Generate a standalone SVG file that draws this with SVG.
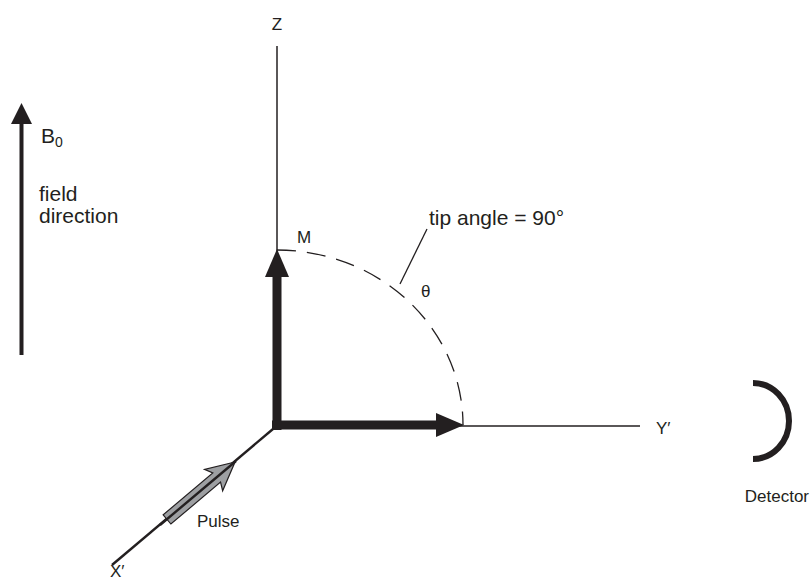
<svg xmlns="http://www.w3.org/2000/svg" width="811" height="582" viewBox="0 0 811 582">
<style>
text{font-family:"Liberation Sans",Arial,sans-serif;font-size:17px;fill:#231f20}
.thin{stroke:#231f20;stroke-width:1.5;fill:none}
.thick{stroke:#231f20;stroke-width:9;fill:none}
.head{fill:#231f20;stroke:none}
.big{font-size:21px}
</style>
<rect width="811" height="582" fill="#fff"/>
<g id="connectors">
<line class="thin" x1="277" y1="46" x2="277" y2="425"/>
<line class="thin" x1="440" y1="426" x2="640" y2="426"/>
<line class="thin" x1="273" y1="429" x2="112" y2="565" style="stroke-width:2.4"/>
<path d="M277 250 A186 175 0 0 1 463 425" fill="none" stroke="#231f20" stroke-width="1.3" stroke-dasharray="19 11"/>
<line class="thin" x1="400" y1="284" x2="427" y2="229" style="stroke-width:1.3"/>
</g>
<g id="b0-arrow">
<line x1="21.5" y1="355" x2="21.5" y2="118" stroke="#231f20" stroke-width="4"/>
<polygon class="head" points="21.5,103 11,124 32,124"/>
<text class="big" x="41" y="143">B<tspan font-size="14" dy="4">0</tspan></text>
<text class="big" x="39" y="201">field</text>
<text class="big" x="39" y="223">direction</text>
</g>
<g id="z-axis"><text x="277" y="30" text-anchor="middle" font-size="19">Z</text></g>
<g id="m-vector">
<line class="thick" x1="277" y1="430" x2="277" y2="272"/>
<polygon class="head" points="277,249 265,277 289,277"/>
<text x="297" y="243" font-size="18">M</text>
</g>
<g id="y-vector">
<line class="thick" x1="272" y1="425" x2="440" y2="425"/>
<polygon class="head" points="464,425 436,413 436,437"/>
</g>
<g id="y-axis"><text x="656" y="434" font-size="19">Y′</text></g>
<g id="tip-angle">
<text class="big" x="429" y="225">tip angle = 90°</text>
<text x="421" y="297" font-size="18">θ</text>
</g>
<g id="pulse">
<polygon points="0,0 -28,-14 -24,-6 -89,-6 -89,6 -24,6 -28,14" fill="#9d9fa2" stroke="#231f20" stroke-width="1.2" transform="translate(235,462) rotate(-40.2)"/>
<line x1="236" y1="461" x2="160" y2="525" stroke="#231f20" stroke-width="2.4"/>
<text x="197" y="527">Pulse</text>
</g>
<g id="x-axis"><text x="110" y="577" font-size="17">X′</text></g>
<g id="detector">
<path d="M753 383 A36 38 0 0 1 753 459" fill="none" stroke="#231f20" stroke-width="6"/>
<text x="809" y="502" text-anchor="end" font-size="16">Detector</text>
</g>
</svg>
